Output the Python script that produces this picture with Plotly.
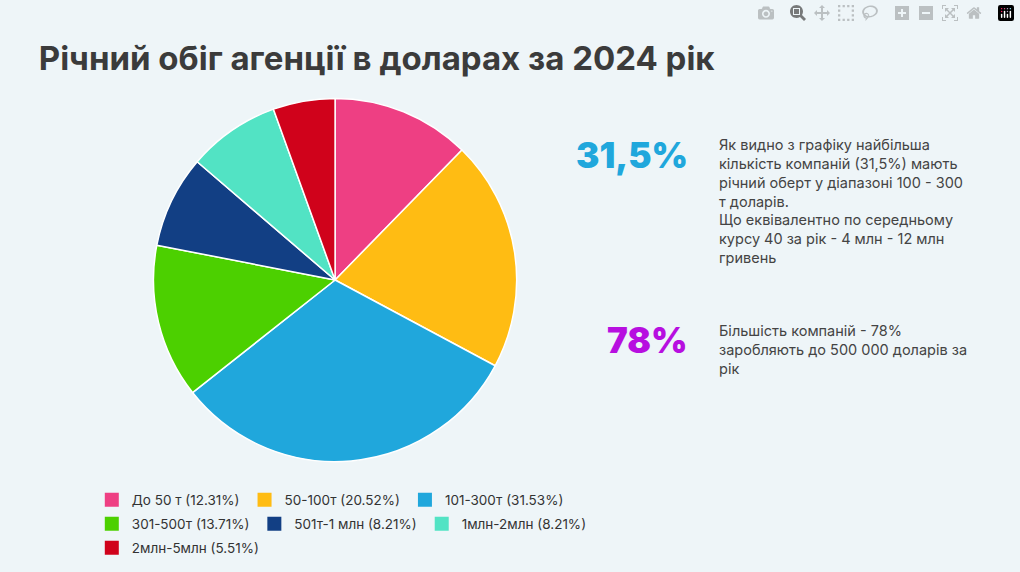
import plotly.graph_objects as go

labels = ["До 50 т", "50-100т", "101-300т", "301-500т", "501т-1 млн", "1млн-2млн", "2млн-5млн"]
values = [12.31, 20.52, 31.53, 13.71, 8.21, 8.21, 5.51]
colors = ["#ee3f83", "#ffbc13", "#20a7dc", "#4cd000", "#123f84", "#52e3c4", "#d0021b"]
legend_rows = ["legend", "legend", "legend", "legend2", "legend2", "legend2", "legend3"]

bg = "#eef5f8"
fig = go.Figure()

fig.add_trace(go.Pie(
    labels=labels, values=values, sort=False, direction="clockwise", rotation=0,
    marker=dict(colors=colors, line=dict(color="white", width=1.5)),
    textinfo="none", hoverinfo="label+percent", showlegend=False,
    domain=dict(x=[0.150, 0.507], y=[0.193, 0.828]),
))

# legend entries, three rows as three legends
for lab, val, col, lg in zip(labels, values, colors, legend_rows):
    fig.add_trace(go.Scatter(
        x=[None], y=[None], mode="markers", name=f"{lab} ({val}%)",
        marker=dict(symbol="square", size=14, color=col), legend=lg,
    ))

leg = dict(orientation="h", x=0.09, xanchor="left", yanchor="middle",
           bgcolor="rgba(0,0,0,0)", font=dict(family="Inter", size=13.5, color="#333"),
           itemwidth=30, tracegroupgap=0)
fig.update_layout(
    width=1020, height=572, margin=dict(l=0, r=0, t=0, b=0),
    paper_bgcolor=bg, plot_bgcolor=bg,
    xaxis=dict(visible=False), yaxis=dict(visible=False),
    legend=dict(leg, y=1 - 500 / 572),
    legend2=dict(leg, y=1 - 524 / 572),
    legend3=dict(leg, y=1 - 548 / 572),
    title=dict(text="<b>Річний обіг агенції в доларах за 2024 рік</b>", x=0.038, xanchor="left",
               y=1 - 58 / 572, yanchor="middle",
               font=dict(family="Inter", size=33, color="#3b3b3b")),
)

body = dict(family="Inter", size=14.5, color="#444")
big = dict(family="Inter", size=35, weight=900)
fig.add_annotation(text="31,5%", x=690 / 1020, y=1 - 155 / 572, xref="paper", yref="paper",
                   xanchor="right", yanchor="middle", showarrow=False,
                   font=dict(big, color="#20a7dc"))
fig.add_annotation(text="78%", x=690 / 1020, y=1 - 340 / 572, xref="paper", yref="paper",
                   xanchor="right", yanchor="middle", showarrow=False,
                   font=dict(big, color="#b70fe0"))
fig.add_annotation(text="Як видно з графіку найбільша<br>кількість компаній (31,5%) мають<br>"
                        "річний оберт у діапазоні 100 - 300<br>т доларів.<br>Що еквівалентно по середньому<br>"
                        "курсу 40 за рік - 4 млн - 12 млн<br>гривень",
                   x=717 / 1020, y=1 - 134 / 572, xref="paper", yref="paper", xanchor="left", yanchor="top",
                   align="left", showarrow=False, font=body)
fig.add_annotation(text="Більшість компаній - 78%<br>заробляють до 500 000 доларів за<br>рік",
                   x=717 / 1020, y=1 - 320 / 572, xref="paper", yref="paper", xanchor="left", yanchor="top",
                   align="left", showarrow=False, font=body)

fig.write_html("out.html")

# drop the default page margin so the figure fills the window
with open("out.html", encoding="utf-8") as f:
    html = f.read()
html = html.replace("<body>", '<body style="margin:0">', 1)
with open("out.html", "w", encoding="utf-8") as f:
    f.write(html)
